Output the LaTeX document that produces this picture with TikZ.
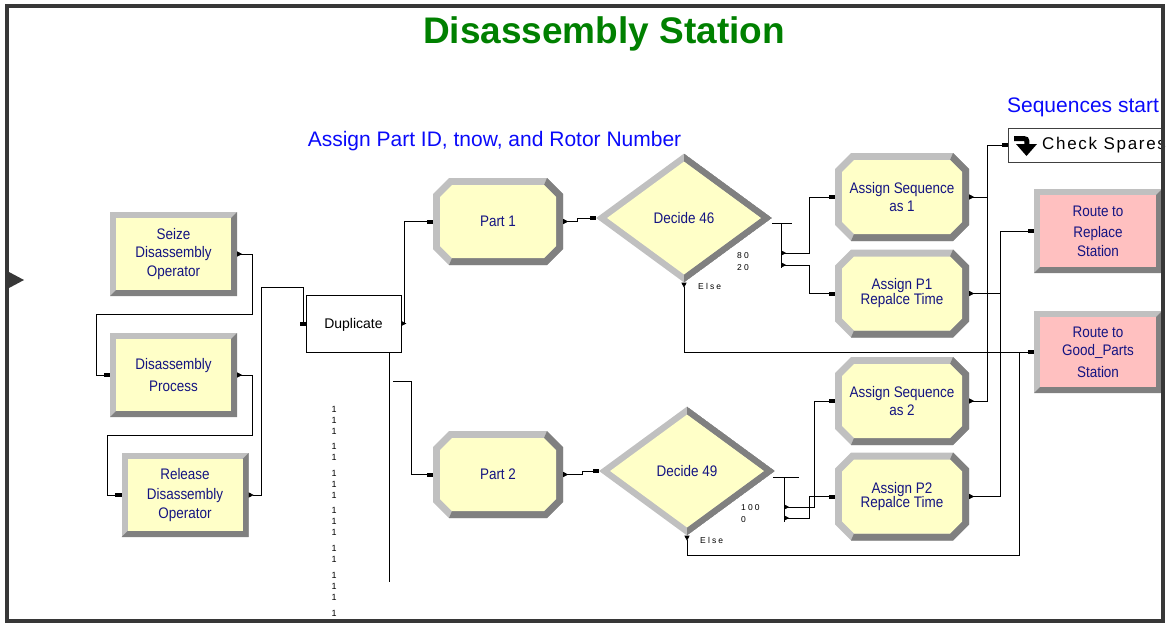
\documentclass[tikz,border=0pt]{standalone}
\usepackage{fontspec}
\setmainfont{Liberation Sans}
\newfontfamily\modfont[FakeStretch=0.88]{Liberation Sans}
\newfontfamily\spacedfont[LetterSpace=25]{Liberation Sans}
\newfontfamily\sparefont[LetterSpace=10]{Liberation Sans}
\usetikzlibrary{shapes.geometric,arrows.meta,calc}

\definecolor{modyellow}{RGB}{255,255,200}
\definecolor{modpink}{RGB}{255,192,192}
\definecolor{bevlight}{RGB}{192,192,192}
\definecolor{beveldark}{RGB}{128,128,128}
\definecolor{modtext}{RGB}{20,20,130}
\definecolor{notegreen}{RGB}{0,128,0}
\definecolor{noteblue}{RGB}{10,10,250}
\definecolor{framegray}{RGB}{55,55,55}

% octagon outline: #1 chamfer, #2 inset
\newcommand{\octpath}[2]{(\x1+#1+#2,\y1-#2) -- (\x2-#1-#2,\y1-#2) -- (\x2-#2,\y1-#1-#2) -- (\x2-#2,\y2+#1+#2) -- (\x2-#1-#2,\y2+#2) -- (\x1+#1+#2,\y2+#2) -- (\x1+#2,\y2+#1+#2) -- (\x1+#2,\y1-#1-#2) -- cycle}

\tikzset{
	modtxt/.style={font=\modfont\fontsize{15.3}{18.5}\selectfont, text=modtext, align=center, inner sep=0pt},
	rectmod/.style={modtxt, rectangle, minimum width=127pt, minimum height=84pt, fill=bevlight,
		path picture={
			\fill[beveldark] let \p1=(path picture bounding box.north west), \p2=(path picture bounding box.south east) in
				(\x2,\y1) -- (\x2,\y2) -- (\x1,\y2) -- (\x1+6pt,\y2+6pt) -- (\x2-6pt,\y2+6pt) -- (\x2-6pt,\y1-6pt) -- cycle;
			\fill[#1] let \p1=(path picture bounding box.north west), \p2=(path picture bounding box.south east) in
				(\x1+6pt,\y1-6pt) rectangle (\x2-6pt,\y2+6pt);
		}},
	rectmod/.default=modyellow,
	octmod/.style={modtxt, rectangle, minimum width=134pt, minimum height=88pt,
		path picture={
			\fill[bevlight] let \p1=(path picture bounding box.north west), \p2=(path picture bounding box.south east) in \octpath{16pt}{0pt};
			\fill[beveldark] let \p1=(path picture bounding box.north west), \p2=(path picture bounding box.south east) in
				(\x2-16pt,\y1) -- (\x2,\y1-16pt) -- (\x2,\y2+16pt) -- (\x2-16pt,\y2) -- (\x1+16pt,\y2) -- (\x1+19pt,\y2+7pt) -- (\x2-19pt,\y2+7pt) -- (\x2-7pt,\y2+19pt) -- (\x2-7pt,\y1-19pt) -- (\x2-19pt,\y1-7pt) -- cycle;
			\fill[modyellow] let \p1=(path picture bounding box.north west), \p2=(path picture bounding box.south east) in \octpath{12pt}{7pt};
		}},
	decmod/.style={modtxt, diamond, minimum width=176pt, minimum height=129pt, fill=bevlight,
		path picture={
			\fill[beveldark] let \p1=(path picture bounding box.north west), \p2=(path picture bounding box.south east), \p3=(path picture bounding box.center) in
				(\x3,\y1) -- (\x2,\y3) -- (\x3,\y2) -- (\x3,\y2+8pt) -- (\x2-11pt,\y3) -- (\x3,\y1-8pt) -- cycle;
			\fill[modyellow] let \p1=(path picture bounding box.north west), \p2=(path picture bounding box.south east), \p3=(path picture bounding box.center) in
				(\x1+11pt,\y3) -- (\x3,\y1-8pt) -- (\x2-11pt,\y3) -- (\x3,\y2+8pt) -- cycle;
		}},
	note/.style={font=\fontsize{21}{24}\selectfont, text=noteblue, inner sep=0pt},
	smalltxt/.style={font=\spacedfont\fontsize{8.5}{10}\selectfont, inner sep=0pt, anchor=west},
	wire/.style={line width=0.7pt},
	link/.style={wire, {Triangle[reversed,length=5pt,width=5pt]}-{Rectangle[length=6pt,width=4pt]}},
	inlink/.style={wire, -{Rectangle[length=6pt,width=4pt]}}
}

\begin{document}
\begin{tikzpicture}[x=1pt,y=-1pt]
	\useasboundingbox (0,0) rectangle (1166,622);

	% notes
	\node[font=\fontsize{37}{40}\selectfont\bfseries, text=notegreen, inner sep=0pt, anchor=base] (title) at (604,43) {Disassembly Station};
	\node[note, anchor=base] (partnote) at (494.5,146) {Assign Part ID, tnow, and Rotor Number};
	\node[note, anchor=base] (seqnote) at (1083,112) {Sequences start};

	% operator
	\node[rectmod] (seize) at (173.5,254) {Seize\\Disassembly\\Operator};
	\node[rectmod] (process) at (173.5,375) {Disassembly\\[4pt]Process};
	\node[rectmod] (release) at (185,495) {Release\\[2pt]Disassembly\\Operator};

	\node[draw, fill=white, line width=0.6pt, minimum width=95pt, minimum height=57pt, text depth=-3pt, font=\fontsize{14}{16}\selectfont] (dup) at (353.5,323.5) {Duplicate};

	% parts
	\node[octmod, minimum width=130pt, minimum height=87pt] (part1) at (498,221.5) {Part 1};
	\node[octmod, minimum width=130pt, minimum height=87pt] (part2) at (498,474.5) {Part 2};

	\node[decmod] (d46) at (684,218) {Decide 46};
	\node[decmod] (d49) at (687,471) {Decide 49};

	\node[octmod] (as1) at (902,197) {Assign Sequence\\as 1};
	\node[octmod, font=\modfont\fontsize{15.3}{15}\selectfont] (ap1) at (902,293.5) {Assign P1\\Repalce Time};
	\node[octmod] (as2) at (902,401) {Assign Sequence\\as 2};
	\node[octmod, font=\modfont\fontsize{15.3}{14.5}\selectfont] (ap2) at (902,496.5) {Assign P2\\Repalce Time};

	% routes
	\node[rectmod=modpink, minimum width=128pt] (replace) at (1098,231) {Route to\\[3pt]Replace\\Station};
	\node[rectmod=modpink, minimum width=128pt, minimum height=82pt] (good) at (1098,352) {Route to\\Good\_Parts\\[3pt]Station};

	\node[draw=black!75, fill=white, line width=0.6pt, minimum width=154pt, minimum height=34pt] (check) at (1085,145) {};
	\draw[line width=5pt] (1014,138.5) -- (1020,138.5) .. controls (1027,138.5) .. (1027,145);
	\fill (1016,144) -- (1037,144) -- (1026.5,156) -- cycle;
	\node[font=\sparefont\fontsize{17}{19}\selectfont, inner sep=0pt, anchor=west] (checktxt) at (1042,145) {Check Spares};

	% branch labels
	\node[smalltxt] (p80) at (737,256) {80};
	\node[smalltxt] (p20) at (737,268) {20};
	\node[smalltxt] (else46) at (698,286) {Else};
	\node[smalltxt] (p100) at (741,508) {100};
	\node[smalltxt] (p0) at (741,520) {0};
	\node[smalltxt] (else49) at (700,540) {Else};

	\foreach \yy [count=\k] in {409,420,431,446,457,473,484,495,510,521,532,548,559,575,586,597,613}
		\node[font=\fontsize{9}{10}\selectfont, inner sep=0pt] (one\k) at (334,\yy) {1};

	% links
	\draw[link] (seize.east) -- ++(15,0) |- (96,314) |- (process.west);
	\draw[link] (process.east) -- ++(15,0) |- (107,435) |- (release.west);
	\draw[link] (release.east) -- ++(13,0) |- (303,287) |- (dup.west);
	\draw[link] (dup.east) -- ++(3,0) |- (part1.west);
	\coordinate (dupexit) at (393,381);
	\coordinate (dupstem) at (389,352);
	\coordinate (stemend) at (389,582);
	\draw[wire] (dupstem) -- (stemend);
	\draw[inlink] (dupexit) -- ++(18,0) |- (part2.west);
	\draw[link] (part1.east) -- ++(14,0) |- (d46.west);
	\draw[link] (part2.east) -- ++(19,0) |- (d49.west);

	% decide 46
	\coordinate (d46bar) at ([yshift=-5pt]d46.east);
	\coordinate (d46t) at ([xshift=9pt,yshift=-35pt]d46.east);
	\coordinate (d46f) at ([xshift=9pt,yshift=-47pt]d46.east);
	\draw[wire] (d46bar) -- ++(20,0);
	\draw[wire] ([xshift=9pt]d46bar) -- ([yshift=-3pt]d46f);
	\draw[link] (d46t) -- ++(28,0) |- (as1.west);
	\draw[link] (d46f) -- ++(28,0) |- (ap1.west);
	\draw[link] (d46.south) |- (good.west);

	% decide 49
	\coordinate (d49bar) at ([yshift=-6pt]d49.east);
	\coordinate (d49t) at ([xshift=9pt,yshift=-36pt]d49.east);
	\coordinate (d49f) at ([xshift=9pt,yshift=-47pt]d49.east);
	\draw[wire] ([xshift=-2pt]d49bar) -- ++(26,0);
	\draw[wire] ([xshift=9pt]d49bar) -- ([yshift=-4pt]d49f);
	\draw[link] (d49t) -- ++(30,0) |- (as2.west);
	\draw[link] (d49f) -- ++(25,0) |- (ap2.west);
	\draw[link] (d49.south) -- ++(0,20) -| ([xshift=-14pt]good.west) -- (good.west);

	% sequences
	\draw[link] (as1.east) -- ++(18,0) |- (check.west);
	\draw[link] (as2.east) -- ++(18,0) |- (check.west);
	\draw[link] (ap1.east) -- ++(31,0) |- (replace.west);
	\draw[link] (ap2.east) -- ++(31,0) |- (replace.west);

	% frame
	\fill[framegray] (9,272) -- (24,280) -- (9,288) -- cycle;
	\draw[framegray, line width=4pt] (7,6) rectangle (1163,620.5);
\end{tikzpicture}
\end{document}
